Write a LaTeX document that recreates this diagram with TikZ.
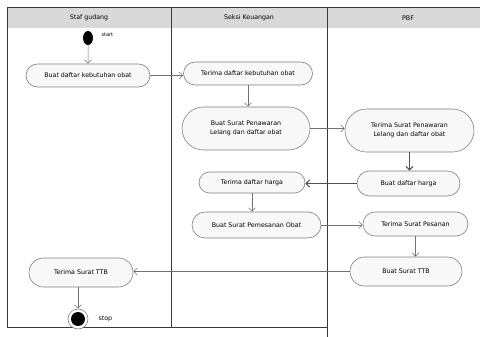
\documentclass[tikz,border=0pt]{standalone}
\usepackage{fontspec}
\setmainfont{DejaVu Sans}
\usetikzlibrary{shapes.misc,shapes.geometric,arrows.meta}
\definecolor{frameC}{HTML}{3A3A3A}
\definecolor{headC}{HTML}{D9D9D9}
\definecolor{nodeB}{HTML}{808080}
\definecolor{nodeF}{HTML}{F8F8F8}
\definecolor{arrC}{HTML}{707070}
\definecolor{arrD}{HTML}{505050}
\begin{document}
\begin{tikzpicture}[x=1pt,y=-1pt,
  act/.style={rounded rectangle, draw=nodeB, fill=nodeF, line width=0.6pt,
    font=\fontsize{6.3}{9.5}\selectfont, align=center, inner sep=0pt},
  flow/.style={draw=arrC, line width=0.5pt, -{Straight Barb[length=3.5pt,width=7pt]}},
  flowb/.style={draw=arrD, line width=1.1pt, -{Straight Barb[length=3.5pt,width=7pt]}},
  lane/.style={draw=frameC, line width=0.7pt},
  head/.style={font=\fontsize{6.3}{8}\selectfont}]
\useasboundingbox (0,0) rectangle (480,337);
% headers
\fill[headC] (7,7) rectangle (480,28);
\draw[lane] (7,327) -- (7,7) -- (480,7);
\draw[lane] (171,7) -- (171,327);
\draw[lane] (327,7) -- (327,337);
\draw[lane] (7,327) -- (327,327);
\node[head] (h1) at (89,18) {Staf gudang};
\node[head] (h2) at (249,18) {Seksi Keuangan};
\node[head] (h3) at (408,18) {PBF};
% start
\node[ellipse, fill=black, minimum width=10pt, minimum height=14pt, inner sep=0pt] (st) at (88,38) {};
\node[font=\fontsize{5}{6}\selectfont, anchor=west] (stl) at (98,35) {start};
% activities
\node[act, minimum width=124pt, minimum height=23pt] (n1) at (88,75.5) {Buat daftar kebutuhan obat};
\node[act, minimum width=129pt, minimum height=23pt] (n2) at (248,73.5) {Terima daftar kebutuhan obat};
\node[act, minimum width=128pt, minimum height=43pt] (n3) at (246,128.5) {Buat Surat Penawaran\\Lelang dan daftar obat};
\node[act, minimum width=129pt, minimum height=43pt] (n4) at (409.5,130.5) {Terima Surat Penawaran\\Lelang dan daftar obat};
\node[act, minimum width=103pt, minimum height=25pt] (n5) at (408.5,183.5) {Buat daftar harga};
\node[act, minimum width=106pt, minimum height=21pt] (n6) at (252,182.5) {Terima daftar harga};
\node[act, minimum width=129pt, minimum height=26pt] (n7) at (256.5,225) {Buat Surat Pemesanan Obat};
\node[act, minimum width=105pt, minimum height=24pt] (n8) at (415.5,224) {Terima Surat Pesanan};
\node[act, minimum width=112pt, minimum height=29pt] (n9) at (406,271.5) {Buat Surat TTB};
\node[act, minimum width=104pt, minimum height=29pt] (n10) at (81,272.5) {Terima Surat TTB};
% end
\node[circle, draw=nodeB, fill=white, line width=0.6pt, minimum size=20pt, inner sep=0pt] (en) at (78,319) {};
\fill[black] (en.center) circle (7pt);
\node[font=\fontsize{6.3}{8}\selectfont, anchor=west] (enl) at (95,319) {stop};
% connectors
\draw[flow] (st) -- (n1);
\draw[flow] (n1.east) -- (n1.east -| n2.west);
\draw[flow] (n2.south) -- (n2.south |- n3.north);
\draw[flow] (n3.east) -- (n3.east -| n4.west);
\draw[flowb] (n4.south) -- (n4.south |- n5.north);
\draw[flowb] (n5.west) -- (n5.west -| n6.east);
\draw[flow] (n6.south) -- (n6.south |- n7.north);
\draw[flow] (n7.east) -- (n7.east -| n8.west);
\draw[flow] (n8.south) -- (n8.south |- n9.north);
\draw[flow] (n9.west) -- (n9.west -| n10.east);
\draw[flow] (n10.south -| en) -- (en.north);
\end{tikzpicture}
\end{document}
